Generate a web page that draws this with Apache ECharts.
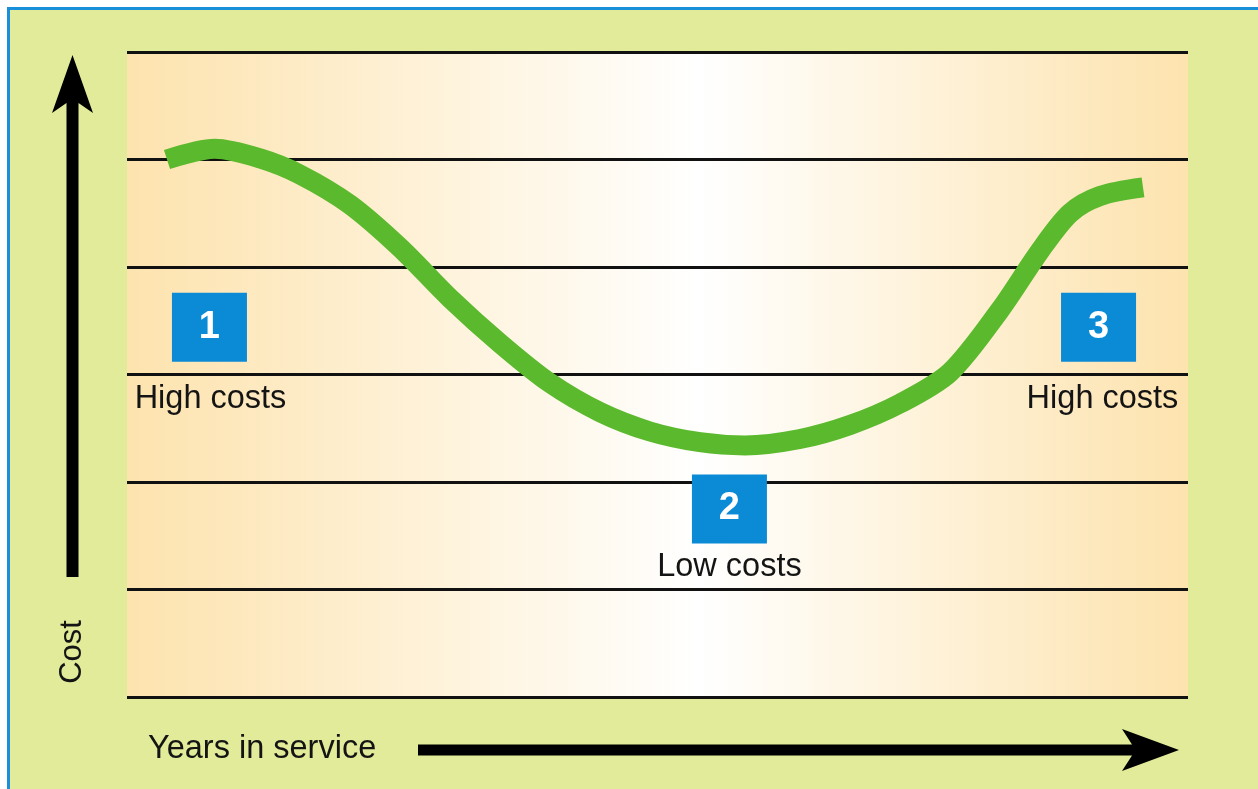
<!DOCTYPE html>
<html>
<head>
<meta charset="utf-8">
<script src="https://cdn.jsdelivr.net/npm/echarts@6/dist/echarts.min.js"></script>
<style>
  html, body { margin: 0; padding: 0; background: #ffffff; overflow: hidden; }
  #wrap { position: relative; width: 1258px; height: 789px; overflow: hidden; background: #ffffff; }
  #frame { position: absolute; left: 7px; top: 7px; width: 1300px; height: 900px;
           border: 3px solid #1a8fd9; background: #e2eb99; }
  #chart { position: absolute; left: 0; top: 0; width: 1258px; height: 789px; }
</style>
</head>
<body>
<div id="wrap"><div id="frame"></div><div id="chart"></div></div>
<script>
// ---- data ----
const yearsX = [3.77, 8.29, 12.54, 16.31, 21.02, 25.73, 30.44, 35.16, 39.87, 44.58, 49.29, 54.00, 58.25, 63.43, 68.14, 72.86, 77.57, 82.28, 86.05, 88.88, 91.71, 95.76];
const costY  = [5.00, 5.10, 5.01, 4.86, 4.58, 4.18, 3.71, 3.29, 2.92, 2.65, 2.47, 2.37, 2.34, 2.40, 2.53, 2.73, 3.02, 3.60, 4.15, 4.50, 4.66, 4.74];

const stageNums   = ['1', '2', '3'];
const stageLabels = ['High costs', 'Low costs', 'High costs'];
const boxX   = [7.77, 56.78, 91.57];
const boxY   = [3.44, 1.75, 3.44];
const labelX = [7.87, 56.78, 91.94];
const labelY = [2.77, 1.21, 2.77];

const yTitle = 'Cost';
const xTitle = 'Years in service';

// ---- build ----
const curve = yearsX.map((x, i) => [x, costY[i]]);
const boxes = boxX.map((x, i) => ({ value: [x, boxY[i]], name: stageNums[i] }));
const texts = labelX.map((x, i) => ({ value: [x, labelY[i]], name: stageLabels[i] }));

const chart = echarts.init(document.getElementById('chart'), null, { renderer: 'canvas' });
const font = '"Liberation Sans", Arial, sans-serif';

chart.setOption({
  backgroundColor: 'transparent',
  animation: false,
  grid: {
    left: 127, right: 70, top: 52, bottom: 92,
    show: true, borderWidth: 0,
    backgroundColor: new echarts.graphic.LinearGradient(0, 0, 1, 0, [
      { offset: 0, color: '#fde3ae' },
      { offset: 0.54, color: '#ffffff' },
      { offset: 1, color: '#fde3ae' }
    ])
  },
  xAxis: {
    type: 'value', min: 0, max: 100,
    axisLine: { show: false }, axisTick: { show: false },
    axisLabel: { show: false }, splitLine: { show: false }
  },
  yAxis: {
    type: 'value', min: 0, max: 6, interval: 1,
    axisLine: { show: false }, axisTick: { show: false },
    axisLabel: { show: false },
    splitLine: { show: true, lineStyle: { color: '#111111', width: 3 } }
  },
  series: [
    {
      type: 'line', data: curve, smooth: 0.3, showSymbol: false,
      lineStyle: { color: '#5bb92d', width: 20, cap: 'butt', join: 'round' },
      z: 3
    },
    {
      type: 'scatter', data: boxes, symbol: 'rect', symbolSize: [75, 69],
      itemStyle: { color: '#0b8ad6', opacity: 1 },
      label: {
        show: true, position: 'inside', formatter: p => p.name,
        color: '#ffffff', fontFamily: font, fontWeight: 'bold', fontSize: 38
      },
      z: 4
    },
    {
      type: 'scatter', data: texts, symbolSize: 0,
      itemStyle: { opacity: 1 },
      label: {
        show: true, position: 'inside', formatter: p => p.name,
        color: '#141414', fontFamily: font, fontSize: 32.5
      },
      z: 4
    }
  ],
  graphic: [
    // vertical (Cost) arrow
    { type: 'polygon', shape: { points: [[72.5, 55], [93, 113], [78.5, 103], [78.5, 577], [66.5, 577], [66.5, 103], [52, 113]] },
      style: { fill: '#000000' } },
    // horizontal (Years) arrow
    { type: 'polygon', shape: { points: [[1179, 750], [1122, 771], [1132, 755.5], [418, 755.5], [418, 744.5], [1132, 744.5], [1122, 729]] },
      style: { fill: '#000000' } },
    { type: 'text', x: 72, y: 652, rotation: Math.PI / 2,
      style: { text: yTitle, fill: '#141414', font: '31px ' + font, align: 'center', verticalAlign: 'middle' } },
    { type: 'text', x: 148, y: 749,
      style: { text: xTitle, fill: '#141414', font: '32.5px ' + font, align: 'left', verticalAlign: 'middle' } }
  ]
});
</script>
</body>
</html>
